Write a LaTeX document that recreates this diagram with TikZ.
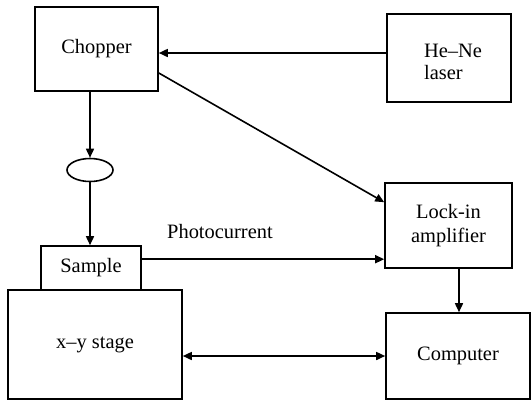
\documentclass[tikz,border=0pt]{standalone}
\usepackage{fontspec}
\setmainfont{Liberation Serif}
\usetikzlibrary{arrows.meta,shapes.geometric}
\begin{document}
\begin{tikzpicture}[x=1bp,y=-1bp,
  box/.style={draw,line width=1.6bp,inner sep=0pt,font=\fontsize{20.5}{24}\selectfont},
  arr/.style={line width=1.6bp,-{Triangle[length=9bp,width=8bp]}},
  lbl/.style={font=\fontsize{20.5}{24}\selectfont,inner sep=0pt}]
\useasboundingbox (0,0) rectangle (531,401);
\node[box,minimum width=123bp,minimum height=84bp] (chopper) at (96.5,49) {Chopper};
\node[box,minimum width=124bp,minimum height=88bp] (laser) at (449,58) {};
\node[lbl,align=left,font=\fontsize{20.5}{22}\selectfont] (laserlbl) at (453,62) {He–Ne\\laser};
\node[draw,line width=1.6bp,ellipse,minimum width=46bp,minimum height=23bp,inner sep=0pt] (lens) at (90,170) {};
\node[box,minimum width=100bp,minimum height=44bp] (sample) at (91,268) {Sample};
\node[box,minimum width=174bp,minimum height=109bp] (stage) at (95,344.5) {x–y stage};
\node[box,minimum width=127bp,minimum height=85bp,align=center] (lockin) at (448.5,225.5) {Lock-in\\amplifier};
\node[box,minimum width=144bp,minimum height=86bp] (computer) at (458,356) {Computer};
\node[lbl,anchor=base west] (pc) at (167,238) {Photocurrent};
\coordinate (l1) at ([yshift=5bp]laser.west);
\draw[arr] (l1) -- (l1 -| chopper.east);
\coordinate (c1) at ([yshift=-24bp]chopper.east);
\coordinate (k1) at ([yshift=-20bp]lockin.north west);
\draw[arr] (c1) -- (k1);
\draw[arr] ([xshift=-6.5bp]chopper.south) -- (lens.north);
\draw[arr] (lens.south) -- (lens.south |- sample.north);
\coordinate (s1) at ([yshift=-14bp]sample.north east);
\draw[arr] (s1) -- (s1 -| lockin.west);
\draw[arr] ([xshift=10.5bp]lockin.south) -- ([xshift=10.5bp]lockin.south |- computer.north);
\draw[arr,{Triangle[length=9bp,width=8bp]}-{Triangle[length=9bp,width=8bp]}] (stage.east |- computer.west) -- (computer.west);
\end{tikzpicture}
\end{document}
